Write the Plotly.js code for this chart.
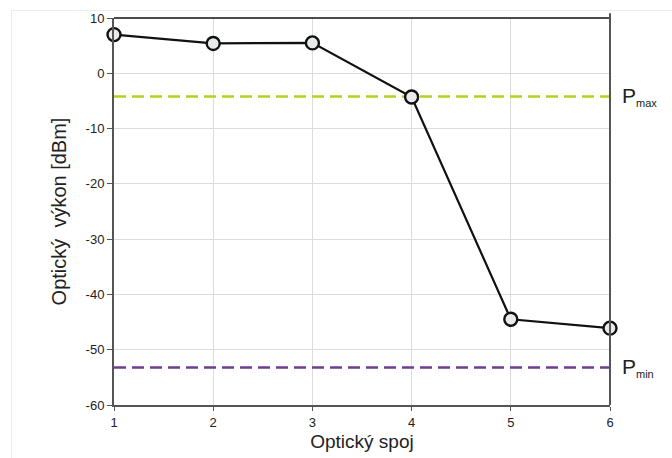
<!DOCTYPE html>
<html>
<head>
<meta charset="utf-8">
<script src="https://cdn.plot.ly/plotly-3.0.1.min.js"></script>
<style>
html,body{margin:0;padding:0;background:#fff;}
#wrap{position:relative;width:672px;height:458px;}
#chart{position:absolute;left:0;top:0;width:672px;height:458px;}
#frame{position:absolute;left:11px;top:10px;width:680px;height:460px;border:1px solid #ececec;pointer-events:none;}
</style>
</head>
<body>
<div id="wrap"><div id="chart"></div><div id="frame"></div></div>
<script>
const links = [1, 2, 3, 4, 5, 6];
const power = [7.0, 5.4, 5.5, -4.3, -44.5, -46.1];
const pMax = -4.2;
const pMin = -53.2;
const yTicks = [10, 0, -10, -20, -30, -40, -50, -60];
const yTickText = ["10", "0", "-10", "-20", "-30", "-40", "-50", "-60"];
const xTickText = ["1", "2", "3", "4", "5", "6"];

const font = "Liberation Sans, Arial, sans-serif";

const traces = [
  {x: [links[0], links[links.length-1]], y: [pMax, pMax], mode: "lines",
   line: {color: "#b8cf1c", width: 2.5, dash: "12px,6px"}, hoverinfo: "skip"},
  {x: [links[0], links[links.length-1]], y: [pMin, pMin], mode: "lines",
   line: {color: "#6f3c96", width: 2.5, dash: "12px,6px"}, hoverinfo: "skip"},
  {x: links, y: power, mode: "lines+markers",
   line: {color: "#111", width: 2.2},
   marker: {symbol: "circle", size: 13, color: "#e9ebea", line: {color: "#111", width: 2.4}},
   cliponaxis: false}
];

const layout = {
  width: 672, height: 458,
  margin: {l: 114, r: 62, t: 18, b: 53},
  paper_bgcolor: "#fff", plot_bgcolor: "#fff",
  showlegend: false,
  font: {family: font, color: "#222", size: 13},
  xaxis: {
    range: [1, 6], tickvals: links, ticktext: xTickText,
    showgrid: true, gridcolor: "#dcdcdc", gridwidth: 1,
    showline: true, linecolor: "#555", linewidth: 2,
    ticks: "outside", ticklen: 4, tickcolor: "#555",
    zeroline: false, tickfont: {size: 13, color: "#222"},
    title: {text: "Optický spoj", font: {size: 19, color: "#222"}, standoff: 6}
  },
  yaxis: {
    range: [-60, 10], tickvals: yTicks, ticktext: yTickText,
    showgrid: true, gridcolor: "#dcdcdc", gridwidth: 1,
    showline: true, linecolor: "#555", linewidth: 2,
    ticks: "outside", ticklen: 5, tickcolor: "#555",
    zeroline: false, tickfont: {size: 13, color: "#222"},
    title: {text: "Optický  výkon [dBm]", font: {size: 20, color: "#222"}, standoff: 14}
  },
  shapes: [
    {type: "line", xref: "paper", yref: "paper", x0: 0, x1: 1, y0: 1, y1: 1,
     line: {color: "#111", width: 1.5}},
    {type: "line", xref: "paper", yref: "paper", x0: 1, x1: 1, y0: 0, y1: 1.012,
     line: {color: "#555", width: 2}}
  ],
  annotations: [
    {xref: "paper", yref: "y", x: 1.02, y: pMax, xanchor: "left", yanchor: "middle",
     text: "P<sub><span style='font-size:11px'>max</span></sub>", showarrow: false, font: {size: 21, color: "#222"}},
    {xref: "paper", yref: "y", x: 1.02, y: pMin, xanchor: "left", yanchor: "middle",
     text: "P<sub><span style='font-size:11px'>min</span></sub>", showarrow: false, font: {size: 21, color: "#222"}}
  ]
};

Plotly.newPlot("chart", traces, layout, {displayModeBar: false, staticPlot: true});
</script>
</body>
</html>
